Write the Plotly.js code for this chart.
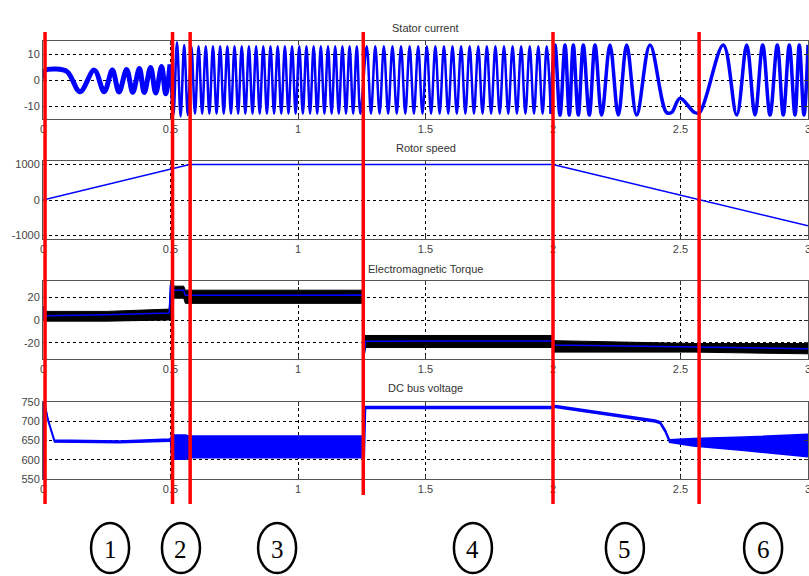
<!DOCTYPE html>
<html><head><meta charset="utf-8">
<script src="https://cdn.plot.ly/plotly-3.0.1.min.js"></script>
<style>html,body{margin:0;padding:0;background:#fff}#chart{width:809px;height:576px}</style>
</head><body><div id="chart"></div>
<script>
// ---------- DATA ----------
const xTickVals = [0, 0.5, 1, 1.5, 2, 2.5, 3];
const xTickText = ['0', '0.5', '1', '1.5', '2', '2.5', '3'];

// Stator current: extrema of the waveform (time s, current A)
const curStartTime = [0, 0.005, 0.05, 0.095, 0.145, 0.201, 0.240, 0.272, 0.298, 0.328, 0.352, 0.378, 0.397, 0.422, 0.442, 0.465, 0.481, 0.498];
const curStartVal  = [0.5, 3.5, 4.2, 3.2, -4.5, 3.8, -4.5, 3.8, -4.6, 4.0, -4.7, 4.4, -4.8, 4.8, -5.0, 5.2, -5.3, 6.0];

const curRunTime = [0.498, 0.5114, 0.5255, 0.5396, 0.5537, 0.5678, 0.5819, 0.5960, 0.6101, 0.6242, 0.6383, 0.6524, 0.6665, 0.6806, 0.6947, 0.7088, 0.7229, 0.7370, 0.7511, 0.7652, 0.7793, 0.7934, 0.8075, 0.8216, 0.8357, 0.8498, 0.8639, 0.8780, 0.8921, 0.9062, 0.9203, 0.9344, 0.9485, 0.9626, 0.9767, 0.9908, 1.0049, 1.0190, 1.0331, 1.0472, 1.0613, 1.0754, 1.0895, 1.1036, 1.1177, 1.1318, 1.1459, 1.1600, 1.1741, 1.1882, 1.2023, 1.2164, 1.2305, 1.2446,
  1.2694, 1.2862, 1.3031, 1.3199, 1.3367, 1.3535, 1.3704, 1.3872, 1.4040, 1.4208, 1.4377, 1.4545, 1.4713, 1.4881, 1.5050, 1.5218, 1.5386, 1.5554, 1.5723, 1.5891, 1.6059, 1.6227, 1.6396, 1.6564, 1.6732, 1.6900, 1.7069, 1.7237, 1.7405, 1.7573, 1.7742, 1.7910, 1.8078, 1.8246, 1.8415, 1.8583, 1.8751, 1.8919, 1.9088, 1.9256, 1.9424, 1.9592, 1.9753, 1.9914];
const curRunVal = [6, -13.5, 14.5, -14, 13.5, -13.5, 13, -13, 13, -13, 13, -13, 13, -13, 13, -13, 13, -13, 13, -13, 13, -13, 13, -13, 13, -13, 13, -13, 13, -13, 13, -13, 13, -13, 13, -13, 13, -13, 13, -13, 13, -13, 13, -13, 13, -13, 13, -13, 13, -13, 13, -13, 13, -13,
  13, -13, 13, -13, 13, -13, 13, -13, 13, -13, 13, -13, 13, -13, 13, -13, 13, -13, 13, -13, 13, -13, 13, -13, 13, -13, 13, -13, 13, -13, 13, -13, 13, -13, 13, -13, 13, -13, 13, -13, 13, -13, 13, -13];

const curSlowTime = [1.9914, 2.0078, 2.0275, 2.0471, 2.0639, 2.0796, 2.0992, 2.1188, 2.1424, 2.1647, 2.1910, 2.2235, 2.2561, 2.2890, 2.3282, 2.3804, 2.445, 2.465, 2.498, 2.555, 2.575, 2.6678, 2.7204, 2.7596, 2.7922, 2.8224, 2.8510, 2.8796, 2.9031, 2.9267, 2.9490, 2.9659, 2.9843, 3.0];
const curSlowVal  = [-13, 13.5, -13.5, 13.5, -13.5, 13.5, -13.5, 13.5, -13.5, 13.5, -13.5, 13.5, -13.5, 13.5, -13.5, 13.5, -12.5, -12.5, -7, -12.5, -12.5, 13.5, -13.5, 13.5, -13.5, 13.5, -13.5, 13.5, -13.5, 13.5, -13.5, 13.5, -13.5, 13.5];

// Rotor speed (rpm)
const speedTime = [0, 0.575, 2.0, 3.0];
const speedVal  = [0, 1000, 1000, -725];

// Electromagnetic torque (N·m): noise band and mean
const torqueTime  = [0, 0.003, 0.012, 0.25, 0.495, 0.5, 0.503, 0.552, 0.558, 0.9, 1.257, 1.26, 1.265, 1.6, 1.998, 2.003, 2.55, 3.0];
const torqueUpper = [0, 12, 7.5, 7.5, 9.5, 31, 29.5, 29.5, 26, 26, 26, -13.5, -13.5, -13.5, -13.5, -18, -20.5, -20.5];
const torqueLower = [0, 0, -1, -1, 0, 0, 19, 19, 14.5, 14.5, 14.5, -30, -24, -24, -24, -28, -28, -29.5];
const torqueMean  = [0, 11, 3.8, 4.5, 6, 31, 26, 26, 21.5, 21.7, 21.7, -30, -18.5, -18.3, -18.3, -21.7, -23.7, -25];

// DC bus voltage (V): band
const voltTime  = [0, 0.002, 0.006, 0.02, 0.045, 0.3, 0.495, 0.5, 0.505, 0.56, 0.57, 1.0, 1.255, 1.26, 1.265, 1.6, 1.998, 2.01, 2.40, 2.42, 2.44, 2.457, 2.55, 2.75, 3.0];
const voltUpper = [550, 750, 750, 705, 651, 649, 654, 655, 664, 664, 662, 662, 662, 738, 738, 738, 738, 741, 703, 699, 678, 652, 655, 659, 666];
const voltLower = [550, 746, 746, 700, 646, 644, 648, 648, 601, 601, 605, 605, 605, 605, 733, 733, 733, 736, 698, 694, 672, 645, 636, 624, 608];

// Phase boundaries and phase labels
const phaseLineTimes = [0.008, 0.508, 0.577, 1.256, 2.0, 2.573];
const phaseLabelTimes = [0.263, 0.541, 0.918, 1.686, 2.282, 2.824];
const phaseLabels = ['1', '2', '3', '4', '5', '6'];

const panelTitles = ['Stator current', 'Rotor speed', 'Electromagnetic Torque', 'DC bus voltage'];
const yTicks = [[-10, 0, 10], [-1000, 0, 1000], [-20, 0, 20], [550, 600, 650, 700, 750]];
const yRanges = [[-15, 15], [-1100, 1100], [-34, 34], [550, 750]];

// ---------- LAYOUT ----------
const H = 576;
const panelPx = [[41, 119], [161, 239], [281, 359], [402, 479]];
const titlePx = [28, 148, 269, 388];
const py = p => 1 - p / H;

const tickFont = {family: 'Liberation Sans, Arial, sans-serif', size: 11, color: '#444'};
const BLUE = '#0000ff';

const layout = {
  width: 809, height: 576,
  margin: {l: 43, r: 1, t: 0, b: 0, pad: 0},
  paper_bgcolor: '#ffffff', plot_bgcolor: '#ffffff',
  showlegend: false,
  shapes: [], annotations: []
};

for (let i = 0; i < 4; i++) {
  const s = i === 0 ? '' : String(i + 1);
  layout['xaxis' + s] = {
    domain: [0, 1], range: [0, 3], anchor: 'y' + s,
    tickvals: xTickVals, ticktext: xTickText,
    ticks: 'inside', ticklen: 4, tickcolor: '#333', mirror: 'allticks',
    showline: true, linecolor: '#555', linewidth: 1,
    showgrid: true, gridcolor: '#000', griddash: 'dot', gridwidth: 1,
    zeroline: false, tickfont: tickFont, fixedrange: true,
    ticklabeloverflow: 'allow'
  };
  layout['yaxis' + s] = {
    domain: [py(panelPx[i][1]), py(panelPx[i][0])], range: yRanges[i], anchor: 'x' + s,
    tickvals: yTicks[i], ticktext: yTicks[i].map(String),
    ticks: 'inside', ticklen: 4, tickcolor: '#333', mirror: 'allticks',
    showline: true, linecolor: '#555', linewidth: 1,
    showgrid: true, gridcolor: '#000', griddash: 'dot', gridwidth: 1,
    zeroline: false, tickfont: tickFont, fixedrange: true,
    ticklabeloverflow: 'allow'
  };
  layout.annotations.push({
    text: panelTitles[i], xref: 'paper', yref: 'paper', x: 0.5, y: py(titlePx[i]),
    xanchor: 'center', yanchor: 'middle', showarrow: false,
    font: {family: 'Liberation Sans, Arial, sans-serif', size: 11, color: '#333'}
  });
}

// Red phase boundary lines
phaseLineTimes.forEach((t, k) => {
  layout.shapes.push({
    type: 'line', xref: 'x', yref: 'paper', x0: t, x1: t,
    y0: py(k === 3 ? 495 : 504), y1: py(32),
    line: {color: '#ff0000', width: 3.5}, layer: 'above'
  });
});

// Phase number circles
phaseLabelTimes.forEach((t, k) => {
  layout.shapes.push({
    type: 'circle', xref: 'x', xsizemode: 'pixel', xanchor: t, x0: -19, x1: 19,
    yref: 'paper', ysizemode: 'pixel', yanchor: py(548), y0: -25, y1: 25,
    line: {color: '#000', width: 2.5}, layer: 'above'
  });
  layout.annotations.push({
    text: phaseLabels[k], xref: 'x', yref: 'paper', x: t, y: py(549),
    xanchor: 'center', yanchor: 'middle', showarrow: false,
    font: {family: 'Liberation Serif, Times New Roman, serif', size: 25, color: '#000'}
  });
});

// ---------- TRACES ----------
const traces = [
  {x: curStartTime, y: curStartVal, xaxis: 'x', yaxis: 'y', mode: 'lines', line: {color: BLUE, width: 5, shape: 'spline'}},
  {x: curRunTime, y: curRunVal, xaxis: 'x', yaxis: 'y', mode: 'lines', line: {color: BLUE, width: 2.5, shape: 'spline'}},
  {x: curSlowTime, y: curSlowVal, xaxis: 'x', yaxis: 'y', mode: 'lines', line: {color: BLUE, width: 3.5, shape: 'spline'}},

  {x: speedTime, y: speedVal, xaxis: 'x2', yaxis: 'y2', mode: 'lines', line: {color: BLUE, width: 1.5}},

  {x: torqueTime, y: torqueUpper, xaxis: 'x3', yaxis: 'y3', mode: 'lines', line: {color: '#000', width: 1}},
  {x: torqueTime, y: torqueLower, xaxis: 'x3', yaxis: 'y3', mode: 'lines', fill: 'tonexty', fillcolor: '#000', line: {color: '#000', width: 1}},
  {x: torqueTime, y: torqueMean, xaxis: 'x3', yaxis: 'y3', mode: 'lines', line: {color: BLUE, width: 1.5}},

  {x: voltTime, y: voltUpper, xaxis: 'x4', yaxis: 'y4', mode: 'lines', line: {color: BLUE, width: 1.5}},
  {x: voltTime, y: voltLower, xaxis: 'x4', yaxis: 'y4', mode: 'lines', fill: 'tonexty', fillcolor: BLUE, line: {color: BLUE, width: 1.5}}
];

Plotly.newPlot('chart', traces, layout, {staticPlot: true, displayModeBar: false});
</script>
</body></html>
